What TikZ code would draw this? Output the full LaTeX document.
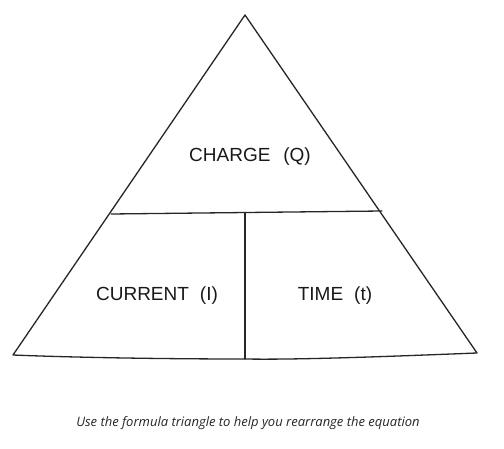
\documentclass[tikz,border=0pt]{standalone}
\usepackage{fontspec}
\setmainfont{Liberation Sans}
\newfontfamily\captionfont{Open Sans}
\tikzstyle{every picture}=[x=1pt,y=-1pt]
\tikzstyle{edge}=[line width=1.3pt,black!85,line join=round,line cap=round]
\tikzstyle{field}=[font=\fontsize{19}{22}\selectfont,text=black!90]

\begin{document}
\begin{tikzpicture}
			% Rahmen festlegen
			\useasboundingbox (0,0) rectangle (504,449);
			% Ecken festlegen
			\coordinate (top) at (245,15);
			\coordinate (left) at (13,355);
			\coordinate (right) at (477,353);
			\coordinate (midleft) at (111,214);
			\coordinate (midright) at (382,211);
			\coordinate (midtop) at (245,213);
			\coordinate (midbottom) at (245,359);
			% Dreieck zeichnen
			\draw[edge] (left) -- (top) -- (right) .. controls (400,356) and (300,360) .. (midbottom) .. controls (150,359) and (60,357) .. (left);
			% Unterteilung zeichnen
			\draw[edge] (midleft) -- (midright);
			\draw[edge] (midtop) -- (midbottom);
			% Felder beschriften
			\node[field] (charge) at (250,157) {CHARGE\hspace{0.4em} (Q)};
			\node[field] (current) at (157,296) {CURRENT\hspace{0.3em} (I)};
			\node[field] (time) at (335,296) {TIME\hspace{0.3em} (t)};
			% Hinweis
			\node[font=\captionfont\itshape\fontsize{13}{15}\selectfont,text=black!85] (hint) at (248,423) {Use the formula triangle to help you rearrange the equation};
		\end{tikzpicture}
\end{document}
